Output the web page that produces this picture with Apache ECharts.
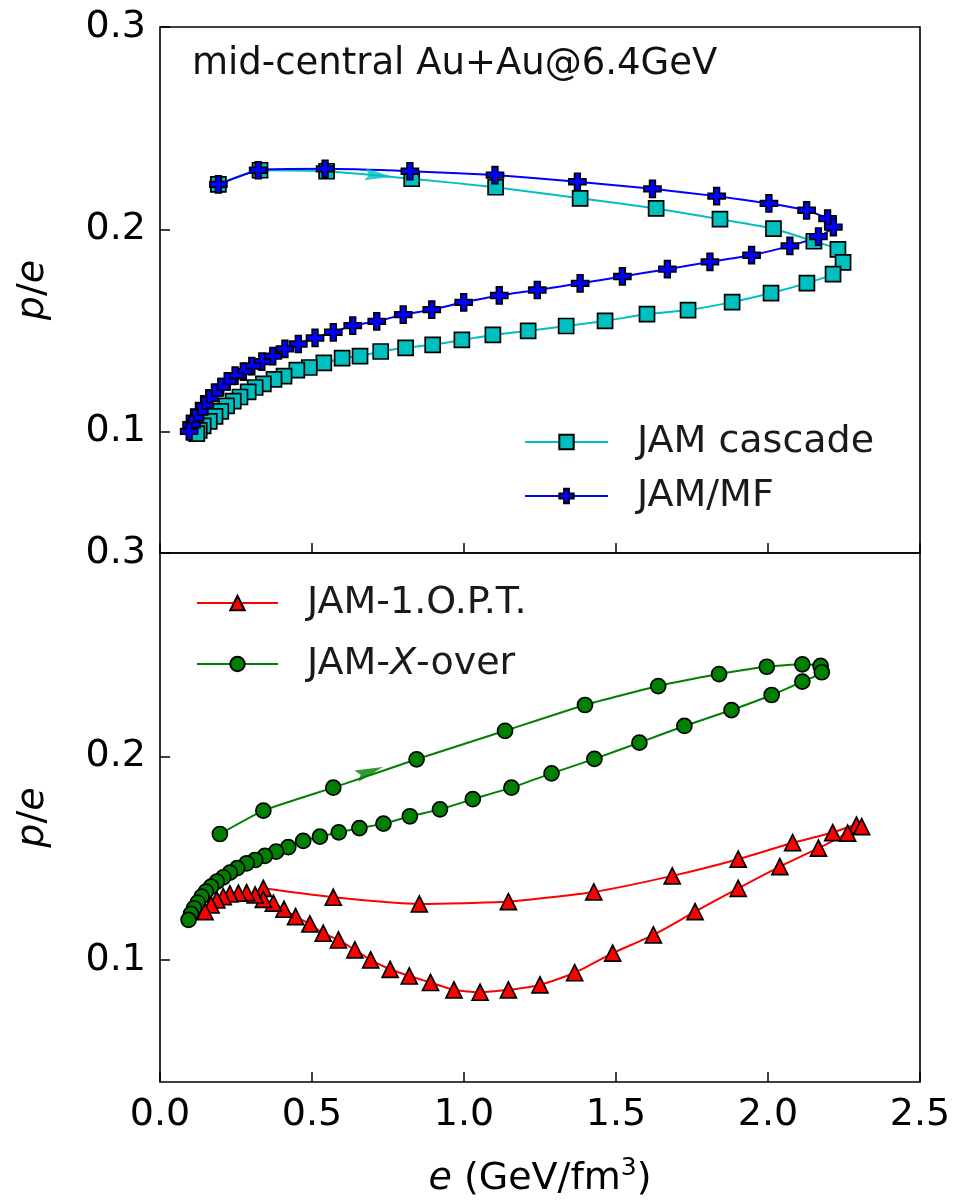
<!DOCTYPE html>
<html>
<head>
<meta charset="utf-8">
<script src="https://cdn.jsdelivr.net/npm/echarts@6/dist/echarts.min.js"></script>
<style>
  html, body { margin: 0; padding: 0; background: #fff; }
  #chart { width: 955px; height: 1203px; }
</style>
</head>
<body>
<div id="chart"></div>
<script>
// Energy density e (GeV/fm^3) and pressure ratio p/e along each trajectory
const cascadeE = [0.192,0.329,0.548,0.828,1.104,1.382,1.632,1.842,2.018,2.151,2.230,2.247,2.214,2.128,2.010,1.882,1.737,1.602,1.464,1.336,1.211,1.095,0.993,0.897,0.808,0.726,0.658,0.599,0.539,0.491,0.450,0.408,0.375,0.340,0.313,0.290,0.263,0.241,0.219,0.200,0.181,0.162,0.142,0.129,0.121];
const cascadeP = [0.2222,0.2292,0.2287,0.2250,0.2208,0.2153,0.2103,0.2050,0.2003,0.1941,0.1901,0.1837,0.1778,0.1734,0.1685,0.1640,0.1601,0.1581,0.1547,0.1522,0.1498,0.1478,0.1453,0.1429,0.1414,0.1396,0.1373,0.1363,0.1340,0.1317,0.1304,0.1274,0.1258,0.1236,0.1218,0.1196,0.1171,0.1151,0.1127,0.1100,0.1075,0.1051,0.1028,0.1006,0.0990];

const mfE = [0.192,0.323,0.543,0.822,1.102,1.373,1.620,1.831,2.003,2.127,2.196,2.215,2.166,2.072,1.946,1.809,1.669,1.521,1.382,1.241,1.116,0.999,0.894,0.800,0.713,0.634,0.570,0.510,0.455,0.411,0.371,0.335,0.302,0.274,0.247,0.221,0.200,0.179,0.162,0.145,0.129,0.115,0.104,0.096];
const mfP = [0.2222,0.2292,0.2299,0.2287,0.2268,0.2235,0.2200,0.2164,0.2128,0.2094,0.2053,0.2011,0.1964,0.1918,0.1872,0.1839,0.1803,0.1767,0.1733,0.1700,0.1673,0.1639,0.1603,0.1578,0.1545,0.1524,0.1491,0.1463,0.1433,0.1409,0.1373,0.1346,0.1324,0.1297,0.1277,0.1248,0.1220,0.1191,0.1163,0.1130,0.1097,0.1067,0.1034,0.1001];

const optE = [0.340,0.570,0.853,1.146,1.427,1.685,1.902,2.081,2.213,2.291,2.308,2.262,2.166,2.039,1.902,1.760,1.623,1.489,1.364,1.250,1.146,1.053,0.967,0.890,0.820,0.757,0.693,0.641,0.587,0.537,0.493,0.446,0.408,0.373,0.340,0.313,0.285,0.258,0.230,0.208,0.187,0.168,0.148];
const optP = [0.1352,0.1308,0.1275,0.1287,0.1334,0.1413,0.1495,0.1576,0.1626,0.1663,0.1655,0.1623,0.1549,0.1459,0.1352,0.1237,0.1123,0.1033,0.0937,0.0877,0.0853,0.0841,0.0853,0.0889,0.0921,0.0954,0.1000,0.1049,0.1098,0.1131,0.1177,0.1213,0.1249,0.1279,0.1298,0.1319,0.1331,0.1328,0.1324,0.1311,0.1295,0.1270,0.1237];

const xoverE = [0.197,0.340,0.570,0.844,1.135,1.398,1.639,1.839,1.996,2.113,2.173,2.177,2.113,2.012,1.880,1.725,1.577,1.429,1.288,1.156,1.029,0.921,0.822,0.735,0.656,0.588,0.526,0.471,0.422,0.382,0.345,0.313,0.285,0.254,0.230,0.208,0.187,0.168,0.151,0.137,0.124,0.112,0.102,0.094];
const xoverP = [0.1619,0.1734,0.1847,0.1986,0.2126,0.2253,0.2346,0.2405,0.2441,0.2453,0.2445,0.2414,0.2368,0.2302,0.2228,0.2150,0.2068,0.1988,0.1917,0.1847,0.1790,0.1740,0.1706,0.1670,0.1648,0.1627,0.1606,0.1585,0.1554,0.1532,0.1511,0.1491,0.1475,0.1451,0.1429,0.1406,0.1385,0.1360,0.1336,0.1311,0.1282,0.1254,0.1226,0.1197];

// Direction-of-evolution arrowheads: [e, p/e, heading in degrees]
const arrowTop = [0.72, 0.2266, -5];
const arrowBottom = [0.69, 0.1926, 19];

// Axis settings
const xTicks = [0, 2.5, 0.5];          // min, max, step
const yRange = [0.04, 0.3];
const yTickValues = [0.1, 0.2, 0.3];

const FONT = 'DejaVu Sans';
const CYAN = '#00BFBF', BLUE = '#0000FF', RED = '#FF0000', GREEN = '#008000';
const PLUS = 'path://M-1,-3 L1,-3 L1,-1 L3,-1 L3,1 L1,1 L1,3 L-1,3 L-1,1 L-3,1 L-3,-1 L-1,-1 Z';
const ARROW = 'path://M0,0 L26,6 L0,12 L4,6 Z';

const pairs = (xs, ys) => xs.map((x, i) => [x, ys[i]]);

function curve(name, xs, ys, color, symbol, size, grid, smooth) {
  return {
    name, type: 'line', xAxisIndex: grid, yAxisIndex: grid,
    data: pairs(xs, ys),
    smooth: smooth,
    symbol, symbolSize: size, showAllSymbol: true,
    lineStyle: { color, width: 2 },
    itemStyle: { color, borderColor: '#000', borderWidth: 1.7 },
    emphasis: { disabled: true },
    z: 3
  };
}

function arrowMark(a, color, grid) {
  return {
    type: 'scatter', xAxisIndex: grid, yAxisIndex: grid,
    data: [[a[0], a[1]]],
    symbol: ARROW, symbolSize: [28, 12], symbolRotate: a[2],
    itemStyle: { color }, emphasis: { disabled: true }, silent: true, z: 4
  };
}

const tickStyle = { show: true, inside: true, length: 10, lineStyle: { color: '#000', width: 1.5 } };

function xAxis(grid, labels) {
  return {
    type: 'value', gridIndex: grid, min: xTicks[0], max: xTicks[1], interval: xTicks[2],
    axisLine: { show: false }, splitLine: { show: false },
    axisTick: tickStyle,
    axisLabel: { show: labels, fontFamily: FONT, fontSize: 38, color: '#000', margin: 14,
                 formatter: v => v.toFixed(1) },
    name: labels ? '{i|e}{n| (GeV/fm}{s|3}{n|)}' : '',
    nameLocation: 'middle', nameGap: 74,
    nameTextStyle: {
      fontFamily: FONT, fontSize: 38, color: '#000',
      rich: {
        i: { fontFamily: FONT, fontSize: 38, fontStyle: 'italic', color: '#000', verticalAlign: 'bottom' },
        n: { fontFamily: FONT, fontSize: 38, color: '#000', verticalAlign: 'bottom' },
        s: { fontFamily: FONT, fontSize: 25, color: '#000', verticalAlign: 'bottom', padding: [0, 0, 17, 0] }
      }
    }
  };
}

function yAxis(grid) {
  return {
    type: 'value', gridIndex: grid, min: yRange[0], max: yRange[1],
    axisLine: { show: false }, splitLine: { show: false },
    axisTick: Object.assign({}, tickStyle, { customValues: yTickValues }),
    axisLabel: { fontFamily: FONT, fontSize: 38, color: '#000', margin: 14,
                 customValues: yTickValues, formatter: v => v.toFixed(1) },
    name: '{i|p}{n|/}{i|e}', nameLocation: 'middle', nameRotate: 90, nameGap: 108,
    nameTextStyle: {
      fontFamily: FONT, fontSize: 38, color: '#000',
      rich: {
        i: { fontFamily: FONT, fontSize: 38, fontStyle: 'italic', color: '#000' },
        n: { fontFamily: FONT, fontSize: 38, color: '#000' }
      }
    }
  };
}

const legendText = { fontFamily: FONT, fontSize: 38, color: '#1a1a1a', padding: [0, 0, 0, 24] };

const option = {
  animation: false,
  backgroundColor: '#fff',
  title: {
    text: 'mid-central Au+Au@6.4GeV', left: 192, top: 46, padding: 0,
    textStyle: { fontFamily: FONT, fontSize: 37, fontWeight: 'normal', color: '#111' }
  },
  grid: [
    { left: 160, top: 27, width: 760, height: 526, show: true, borderColor: '#000', borderWidth: 1.6, backgroundColor: 'transparent' },
    { left: 160, top: 553, width: 760, height: 529, show: true, borderColor: '#000', borderWidth: 1.6, backgroundColor: 'transparent' }
  ],
  xAxis: [xAxis(0, false), xAxis(1, true)],
  yAxis: [yAxis(0), yAxis(1)],
  legend: [
    { data: ['JAM cascade', 'JAM/MF'], orient: 'vertical', left: 524, top: 423, padding: 0,
      itemWidth: 83, itemHeight: 18, itemGap: 16, textStyle: legendText, selectedMode: false },
    { data: ['JAM-1.O.P.T.', 'JAM-X-over'], orient: 'vertical', left: 196, top: 584, padding: 0,
      itemWidth: 81, itemHeight: 18, itemGap: 23, selectedMode: false,
      textStyle: Object.assign({}, legendText, {
        rich: {
          n: { fontFamily: FONT, fontSize: 38, color: '#1a1a1a' },
          i: { fontFamily: FONT, fontSize: 38, color: '#1a1a1a', fontStyle: 'italic' }
        }
      }),
      formatter: name => name === 'JAM-X-over' ? '{n|JAM-}{i|X}{n|-over}' : name
    }
  ],
  series: [
    curve('JAM cascade', cascadeE, cascadeP, CYAN, 'rect', 15, 0, 0.15),
    curve('JAM/MF', mfE, mfP, BLUE, PLUS, 17, 0, 0.15),
    arrowMark(arrowTop, CYAN, 0),
    curve('JAM-X-over', xoverE, xoverP, GREEN, 'circle', 15, 1, 0.15),
    curve('JAM-1.O.P.T.', optE, optP, RED, 'triangle', 16, 1, 0.2),
    arrowMark(arrowBottom, GREEN, 1)
  ]
};

const chart = echarts.init(document.getElementById('chart'), null, { renderer: 'canvas' });
chart.setOption(option);
</script>
</body>
</html>
